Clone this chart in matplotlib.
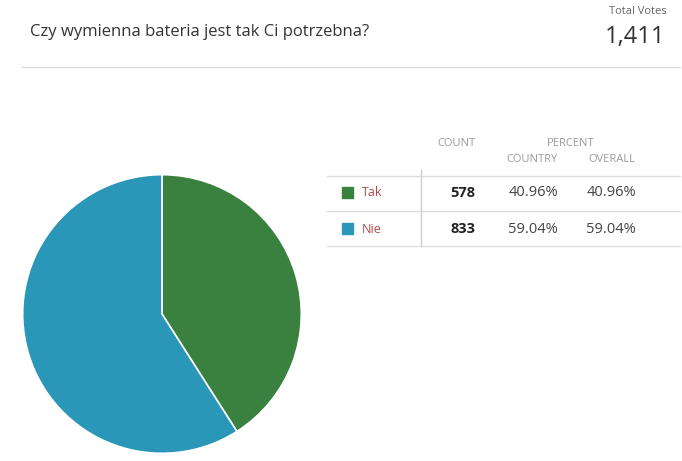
import matplotlib
matplotlib.use("Agg")
import matplotlib.pyplot as plt
from matplotlib.lines import Line2D
from matplotlib.patches import Rectangle

plt.rcParams['font.family'] = ['Open Sans', 'DejaVu Sans']

title = "Czy wymienna bateria jest tak Ci potrzebna?"
total_votes = "1,411"
categories = ["Tak", "Nie"]
counts = [578, 833]
pct_country = ["40.96%", "59.04%"]
pct_overall = ["40.96%", "59.04%"]
colors = ["#3a8140", "#2a96b8"]

W, H = 682, 461
fig = plt.figure(figsize=(W/100, H/100), dpi=100)

def T(x, y, s, **kw):
    fig.text(x/W, 1 - y/H, s, **kw)

def hline(x0, x1, y, c="#dddddd", lw=1):
    fig.add_artist(Line2D([x0/W, x1/W], [1-y/H, 1-y/H], color=c, lw=lw))

def vline(x, y0, y1, c="#cccccc", lw=1):
    fig.add_artist(Line2D([x/W, x/W], [1-y0/H, 1-y1/H], color=c, lw=lw))

T(30, 32, title, fontsize=12, color="#333333", va="center")
T(667, 12, "Total Votes", fontsize=8, color="#666666", ha="right", va="center")
T(665, 37, total_votes, fontsize=17, color="#333333", ha="right", va="center")
hline(22, 680, 67)

ax = fig.add_axes([22/W, 1-454/H, 280/W, 280/H])
ax.pie(counts, colors=colors, startangle=90, counterclock=False,
       wedgeprops=dict(edgecolor="white", linewidth=1.2))
ax.set_xlim(-1.005, 1.005)
ax.set_ylim(-1.005, 1.005)
ax.set_aspect("equal")

gray = "#999999"
T(456, 143, "COUNT", fontsize=8, color=gray, ha="center", va="center")
T(571, 143, "PERCENT", fontsize=8, color=gray, ha="center", va="center")
T(532, 159, "COUNTRY", fontsize=8, color=gray, ha="center", va="center")
T(612, 159, "OVERALL", fontsize=8, color=gray, ha="center", va="center")

hline(327, 680, 176)
hline(327, 680, 211)
hline(327, 680, 246)
vline(421, 170, 246)

row_y = [193, 229]
for i, cat in enumerate(categories):
    y = row_y[i]
    fig.add_artist(Rectangle(((342)/W, 1-(y+5)/H), 11/W, 11/H, color=colors[i]))
    T(362, y, cat, fontsize=9, color="#b04a4a", va="center")
    T(475, y, str(counts[i]), fontsize=10.5, color="#222222", fontweight="bold", ha="right", va="center")
    T(558, y, pct_country[i], fontsize=10.5, color="#444444", ha="right", va="center")
    T(636, y, pct_overall[i], fontsize=10.5, color="#444444", ha="right", va="center")

fig.savefig("out.png", dpi=100, facecolor="white")
